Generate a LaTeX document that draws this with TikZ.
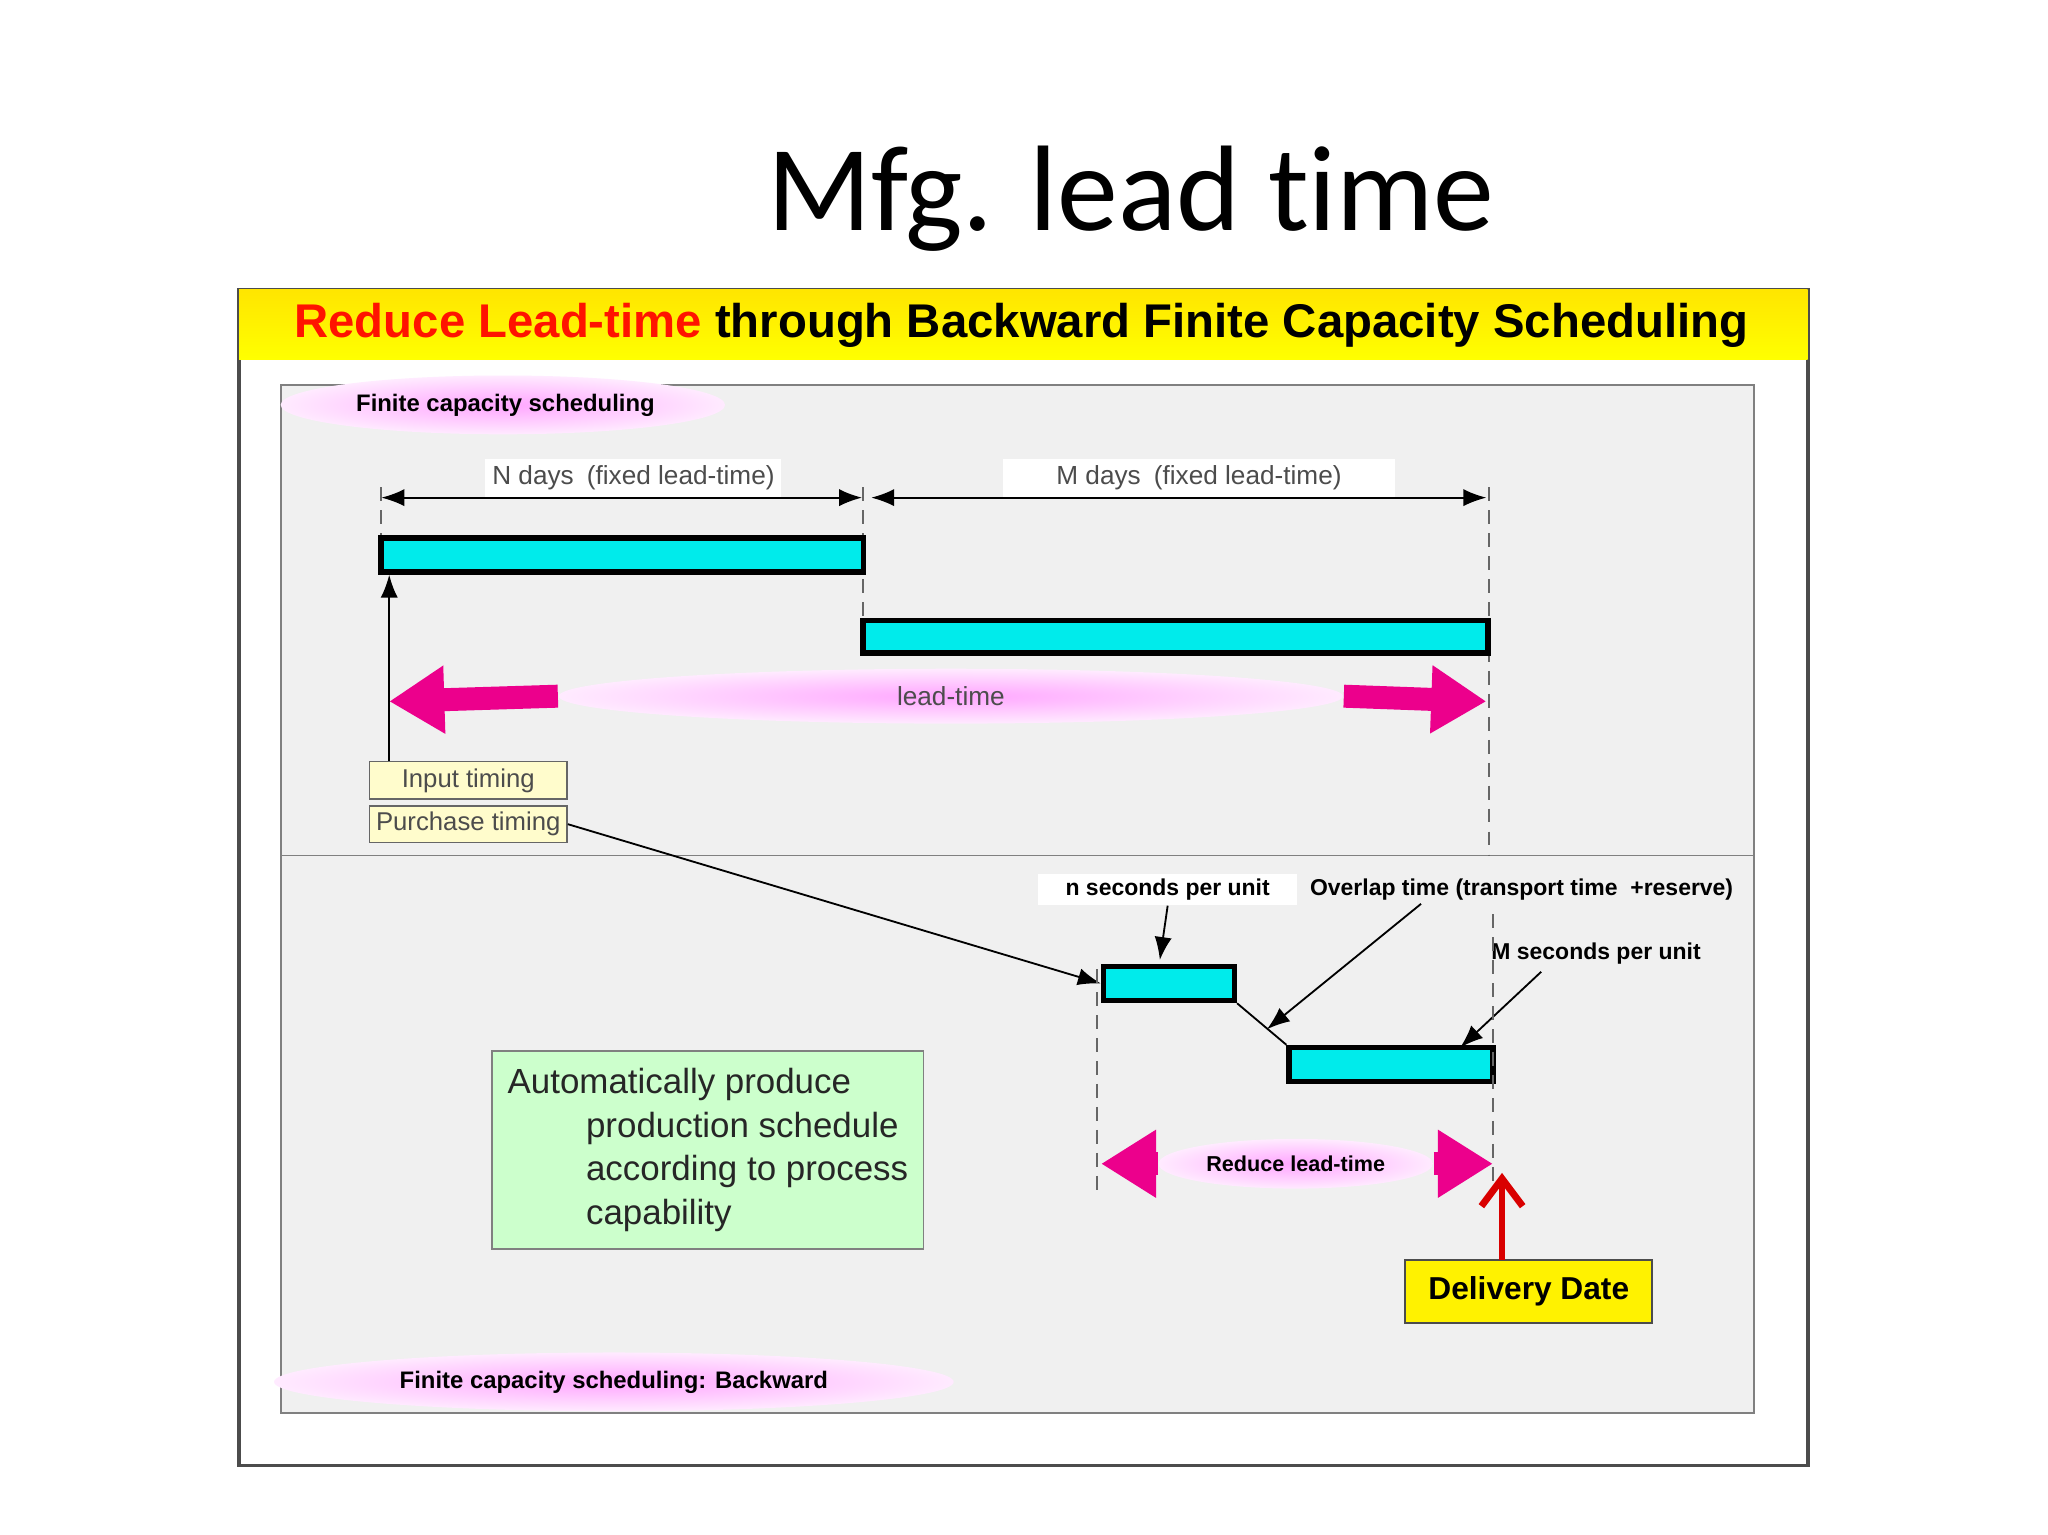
\documentclass[tikz,border=0pt]{standalone}
\usepackage{fontspec}
\setmainfont{Liberation Sans}
\newfontfamily\titlefont[Ligatures=NoCommon]{Carlito}
\usetikzlibrary{arrows.meta,shapes.geometric,positioning}
\definecolor{barcyan}{RGB}{0,235,235}
\begin{document}
\begin{tikzpicture}[x=0.01cm,y=-0.01cm]
\tikzset{bar/.style = {draw, very thick, fill=barcyan}}
\tikzset{tag/.style = {draw=black!60, fill=yellow!20, font=\fontsize{5.6}{7}\selectfont, text=black!70, inner sep=1pt}}
\tikzset{cloud/.style = {ellipse, inner color=magenta!35, outer color=magenta!8, inner sep=0pt}}
\tikzset{dim/.style = {-{Latex[length=5pt]}, thin}}
\tikzset{guide/.style = {densely dashed, black!60, thin}}
\tikzset{fat/.style = {-{Triangle[length=12pt,width=14pt]}, magenta, line width=5pt}}
\tikzset{note/.style = {font=\bfseries\fontsize{5}{6}\selectfont, inner sep=1pt}}
\useasboundingbox (0,0) rectangle (1568,1175);
\fill[white] (0,0) rectangle (1568,1175);
% title
\node[font=\titlefont\fontsize{26.5}{30}\selectfont] (title) at (866,152) {Mfg. lead time};
% frame
\draw[black!70, thick, fill=white] (183,222) rectangle (1384,1122);
\shade[top color=yellow!80!orange, bottom color=yellow] (183,222) rectangle (1384,275);
\node[font=\bfseries\fontsize{10.3}{12}\selectfont] (head) at (782,249)
  {\textcolor{red!85!orange}{Reduce Lead-time} through Backward Finite Capacity Scheduling};
\draw[black!50, fill=black!6] (215,295) rectangle (1343,1082);
\draw[black!50] (215,655) -- (1343,655);
% labels in clouds
\node[cloud, minimum width=3.4cm, minimum height=0.45cm] (c1) at (385,310) {};
\node[note, font=\bfseries\fontsize{5.2}{6}\selectfont] (lab1) at (387,310) {Finite capacity scheduling};
\node[cloud, minimum width=5.2cm, minimum height=0.45cm] (c2) at (470,1058) {};
\node[note, font=\bfseries\fontsize{5.2}{6}\selectfont] (lab2) at (470,1058) {Finite capacity scheduling: Backward};
% upper part
\coordinate (a0) at (292,381); \coordinate (a1) at (660,381);
\coordinate (b0) at (667,381); \coordinate (b1) at (1138,381);
\draw[{Latex[length=5pt]}-{Latex[length=5pt]}] (a0) -- (a1);
\draw[{Latex[length=5pt]}-{Latex[length=5pt]}] (b0) -- (b1);
\node[fill=white, inner sep=1.5pt, font=\fontsize{5.7}{7}\selectfont, text=black!70] (nd) at (485,366) {N days\enspace(fixed lead-time)};
\node[fill=white, inner sep=1.5pt, font=\fontsize{5.7}{7}\selectfont, text=black!70, minimum width=3cm] (md) at (918,366) {M days\enspace(fixed lead-time)};
\draw[guide] (292,373) -- (292,412);
\draw[guide] (661,373) -- (661,475);
\draw[guide] (1140,373) -- (1140,655);
\node[bar, minimum width=3.69cm, minimum height=0.26cm, inner sep=0pt] (n1) at (476.5,425) {};
\node[bar, minimum width=4.78cm, minimum height=0.25cm, inner sep=0pt] (n2) at (900,487.5) {};
\node[cloud, minimum width=6cm, minimum height=0.42cm] (c3) at (728,533) {};
\coordinate (l0) at (298,537); \coordinate (l1) at (1138,537);
\draw[fat] (c3.west) -- (l0);
\draw[fat] (c3.east) -- (l1);
\node[font=\fontsize{5.7}{7}\selectfont, text=black!70] (lt) at (c3) {lead-time};
\node[tag, minimum width=1.51cm, minimum height=0.29cm] (inp) at (358.5,597.5) {Input timing};
\node[tag, minimum width=1.51cm, minimum height=0.28cm] (pur) at (358.5,631) {Purchase timing};
\draw[dim] (inp.north -| 298,0) -- (298,440);
% lower part
\node[bar, minimum width=1cm, minimum height=0.26cm, inner sep=0pt] (m1) at (895,753) {};
\node[bar, minimum width=1.56cm, minimum height=0.26cm, inner sep=0pt] (m2) at (1065,815) {};
\draw[dim] (pur.east) -- (m1.west);
\draw[thin] (m1.south east) -- (m2.north west);
\node[note, fill=white, inner xsep=6pt] (ns) at (894,681) {n seconds per unit};
\node[note] (ov) at (1165,681) {Overlap time (transport time \ +reserve)};
\node[note] (ms) at (1222,730) {M seconds per unit};
\coordinate (p1) at (888,735); \coordinate (p2) at (970,788); \coordinate (p3) at (1118,802);
\draw[dim] (ns.south) -- (p1);
\draw[dim] (1088,692) -- (p2);
\draw[dim] (1180,744) -- (p3);
\draw[guide] (840,742) -- (840,912);
\draw[guide] (1143,700) -- (1143,905);
\node[cloud, minimum width=2.1cm, minimum height=0.38cm] (c4) at (992,891) {};
\coordinate (r0) at (843,891); \coordinate (r1) at (1143,891);
\draw[fat] (c4.west) -- (r0);
\draw[fat] (c4.east) -- (r1);
\node[note, font=\bfseries\fontsize{4.7}{6}\selectfont] (rl) at (c4) {Reduce lead-time};
\node[draw=black!70, fill=yellow, font=\bfseries\fontsize{6.9}{8}\selectfont, minimum width=1.89cm, minimum height=0.48cm] (dd) at (1170.5,989) {Delivery Date};
\draw[-{Straight Barb[length=6pt,width=9pt]}, red!85!black, line width=1.5pt] (1150,965) -- (1150,898);
\node[draw=black!50, fill=green!20, minimum width=3.3cm, minimum height=1.51cm, align=left,
  font=\fontsize{7.6}{9.5}\selectfont, text=black!85] (auto) at (542,880.5)
  {Automatically produce\\\hspace{0.6cm}production schedule\\\hspace{0.6cm}according to process\\\hspace{0.6cm}capability};
\end{tikzpicture}
\end{document}
